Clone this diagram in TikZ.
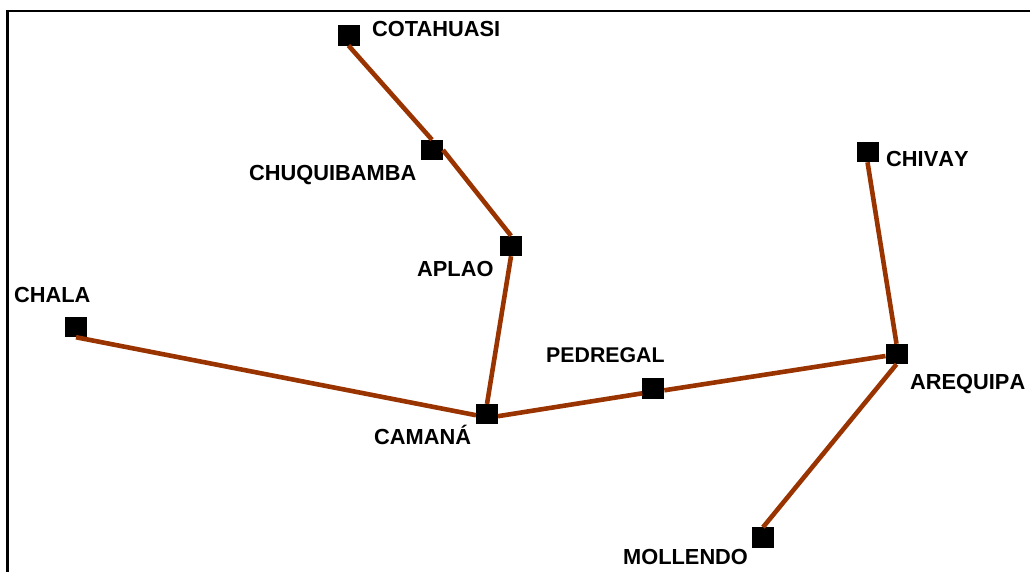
\documentclass[tikz,border=0pt]{standalone}
\usepackage{fontspec}
\setmainfont{Liberation Sans}
\definecolor{linkc}{HTML}{993300}
\tikzset{
 px/.style={x=1pt,y=-1pt},
 stn/.style={fill=black,draw=none,minimum width=22pt,minimum height=20.5pt,inner sep=0pt,outer sep=0pt,rectangle},
 lbl/.style={font=\fontsize{21.8}{25}\selectfont\bfseries,inner sep=0pt,text=black,anchor=base west},
 link/.style={draw=linkc,line width=4.6pt}
}
\begin{document}
\begin{tikzpicture}[px]
\useasboundingbox (0,0) rectangle (1030,572);
\fill[white] (0,0) rectangle (1030,572);
\coordinate (fa) at (7.5,572);
\coordinate (fb) at (7.5,11);
\coordinate (fc) at (1030,11);
\draw[line width=2.2pt] (fa) -- (fb) -- (fc);
\node[stn] (cota) at (348.5,35.3) {};
\node[stn] (chuq) at (432,150) {};
\node[stn] (apla) at (511,246) {};
\node[stn] (chiv) at (867.5,152) {};
\node[stn] (chal) at (76,327) {};
\node[stn] (cama) at (487,414.2) {};
\node[stn] (pedr) at (653.3,388.3) {};
\node[stn] (areq) at (896.5,354) {};
\node[stn] (moll) at (763,537.5) {};
\draw[link] (cota.south) -- (chuq.north);
\draw[link] (chuq.east) -- (apla.north);
\draw[link] (apla.south) -- (cama.north);
\draw[link] (chal.south) -- ([yshift=-1pt]cama.west);
\draw[link] ([yshift=-2pt]cama.east) -- ([yshift=-5pt]pedr.west);
\draw[link] ([yshift=-2pt]pedr.east) -- ([yshift=-2pt]areq.west);
\draw[link] (chiv.south) -- (areq.north);
\draw[link] (areq.south) -- (moll.north);
\node[lbl] (tcota) at (372,36.2) {COTAHUASI};
\node[lbl] (tchuq) at (249,180.5) {CHUQUIBAMBA};
\node[lbl] (tapla) at (417,276.5) {APLAO};
\node[lbl] (tchiv) at (886,167) {\addfontfeature{Kerning=Off}CHIVAY};
\node[lbl] (tchal) at (14,302) {CHALA};
\node[lbl] (tcama) at (374,444) {CAMANÁ};
\node[lbl] (tpedr) at (546,362) {\fontsize{21.3}{25}\selectfont PEDREGAL};
\node[lbl] (tareq) at (910,389) {\addfontfeature{Kerning=Off}AREQUIPA};
\node[lbl] (tmoll) at (623,564) {MOLLENDO};
\end{tikzpicture}
\end{document}
